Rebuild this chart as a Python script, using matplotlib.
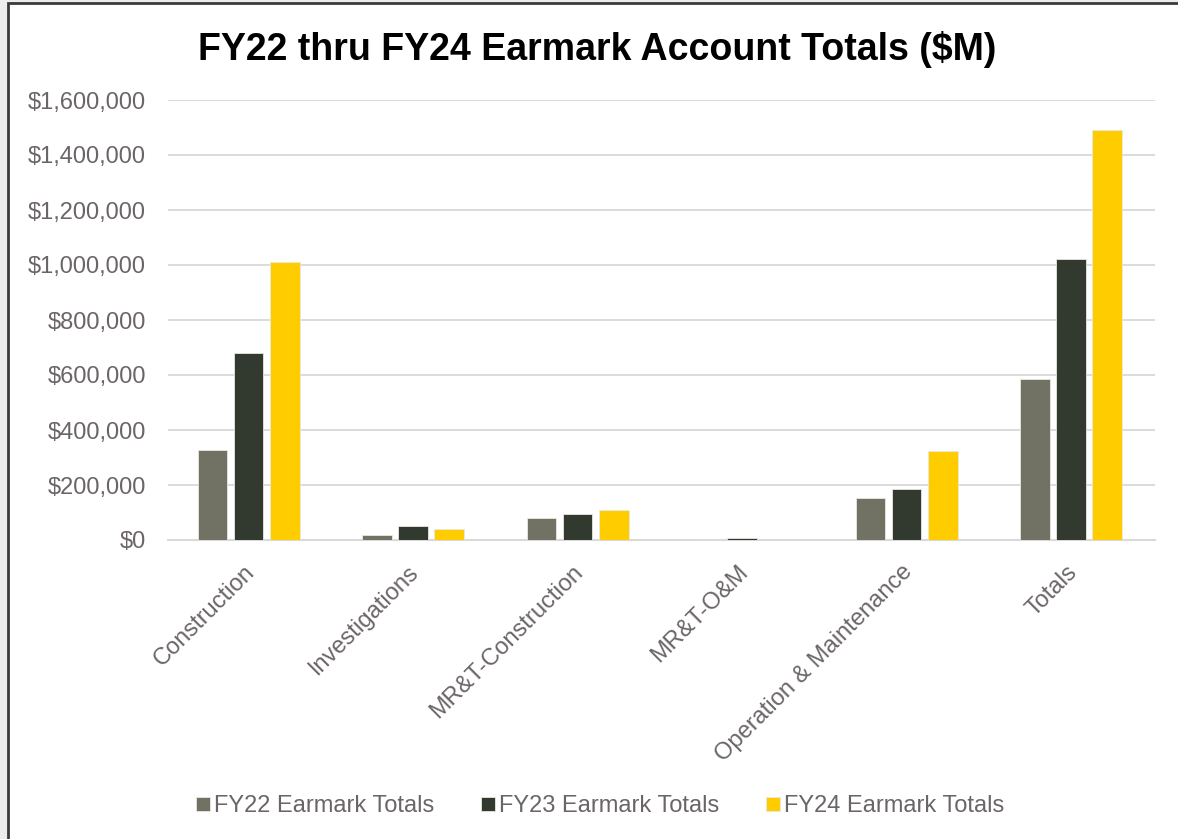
import numpy as np
import matplotlib.pyplot as plt
from matplotlib.patches import Rectangle
from matplotlib.ticker import FuncFormatter
from matplotlib.transforms import ScaledTranslation

categories = ['Construction', 'Investigations', 'MR&T-Construction', 'MR&T-O&M',
              'Operation & Maintenance', 'Totals']
fy22 = [327000, 18000, 80000, 2000, 153000, 585000]
fy23 = [680000, 51000, 95000, 8000, 185000, 1022000]
fy24 = [1011000, 40000, 109000, 0, 324000, 1491000]
series_names = ['FY22 Earmark Totals', 'FY23 Earmark Totals', 'FY24 Earmark Totals']
colors = ['#727264', '#323a30', '#ffcc00']

text_color = '#6b6567'
plt.rcParams['font.family'] = ['Liberation Sans', 'DejaVu Sans']

fig = plt.figure(figsize=(11.78, 8.39), dpi=100)
fig.patch.set_facecolor('#ececec')
# white slide panel with dark frame
panel = Rectangle((8 / 1178, -0.05), 1.1, 1 - 3 / 839 + 0.05,
                  transform=fig.transFigure, facecolor='white',
                  edgecolor='#3a3a3a', linewidth=2, zorder=-5)
fig.patches.append(panel)

ax = fig.add_axes([168 / 1178, 1 - 540 / 839, (1155 - 168) / 1178, 440 / 839])
ax.set_facecolor('none')
ax.set_zorder(2)

x = np.arange(len(categories))
w = 0.18
step = 0.22
for i, (vals, name, c) in enumerate(zip([fy22, fy23, fy24], series_names, colors)):
    ax.bar(x + (i - 1) * step - 0.01, vals, width=w, color=c, label=name,
           edgecolor='#e8e8e0', linewidth=0.6, zorder=3)

ax.set_xlim(-0.5, len(categories) - 0.5)
ax.set_ylim(0, 1600000)
ax.set_yticks(np.arange(0, 1600001, 200000))
ax.yaxis.set_major_formatter(FuncFormatter(lambda v, p: '${:,.0f}'.format(v)))
ax.grid(axis='y', color='#d9d9d9', linewidth=1.3, zorder=0)
ax.set_axisbelow(True)
for s in ['top', 'right', 'left']:
    ax.spines[s].set_visible(False)
ax.spines['bottom'].set_color('#d9d9d9')
ax.spines['bottom'].set_linewidth(1.5)
ax.tick_params(axis='both', length=0, labelsize=17, labelcolor=text_color)
ax.tick_params(axis='y', pad=16)
ax.tick_params(axis='x', pad=15)
ax.set_xticks(x)
ax.set_xticklabels(categories, rotation=45, ha='right', rotation_mode='anchor')
# nudge rotated category labels a little to the left
shift = ScaledTranslation(-7 / 100, 0, fig.dpi_scale_trans)
for lbl in ax.get_xticklabels():
    lbl.set_transform(lbl.get_transform() + shift)

fig.text(597 / 1178, 1 - 49 / 839, 'FY22 thru FY24 Earmark Account Totals ($M)',
         ha='center', va='center', fontsize=27, fontweight='bold', color='black')

leg = fig.legend(loc='center', bbox_to_anchor=(600 / 1178, 1 - 806 / 839), ncol=3,
                 frameon=False, handlelength=0.6, handleheight=0.55, handletextpad=0.15,
                 columnspacing=2.0, prop={'size': 17})
for t in leg.get_texts():
    t.set_color(text_color)

fig.savefig('out.png', dpi=100, facecolor=fig.get_facecolor())
